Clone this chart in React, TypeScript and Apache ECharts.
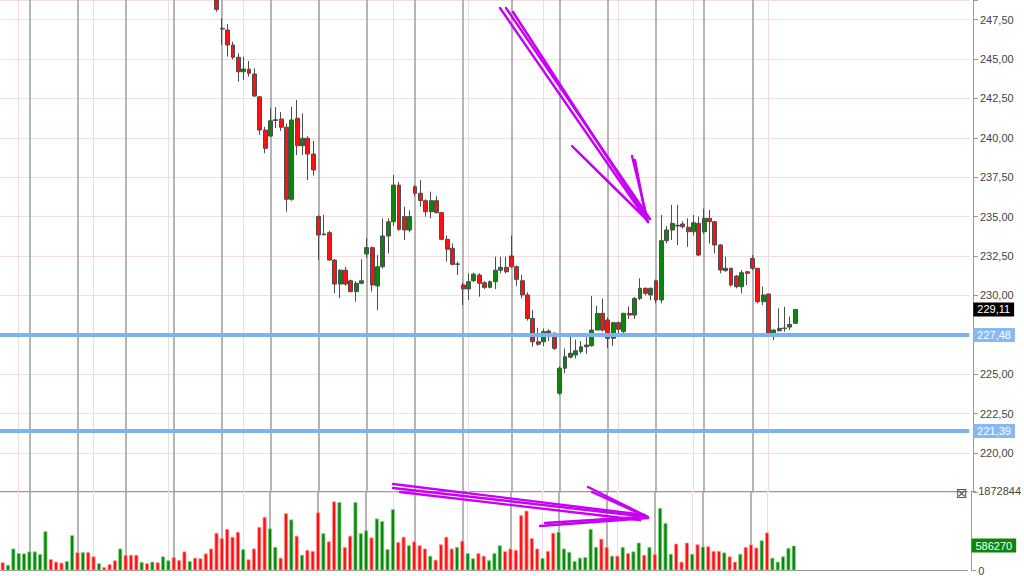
import React, { useEffect, useRef } from "react";
import * as echarts from "echarts";

// ---- data ----
const HIDDEN_BEFORE = 40; // first 40 candles lie above the visible price range
const TOTAL_SLOTS = 181; // category slots across the plot (right part empty)

// [open, close, low, high] for candles 40..148
const candles: number[][] = [
  [249.3, 248.15, 248.0, 249.6],
  [246.95, 246.9, 245.9, 247.6],
  [246.84, 245.89, 245.15, 247.22],
  [245.89, 245.11, 244.98, 246.1],
  [245.11, 244.19, 243.56, 245.36],
  [244.19, 244.36, 243.67, 245.15],
  [244.35, 244.09, 243.88, 244.87],
  [244.05, 242.65, 242.6, 244.41],
  [242.6, 240.49, 240.18, 242.65],
  [240.49, 239.33, 239.02, 240.7],
  [240.11, 241.08, 240.05, 241.89],
  [241.1, 241.15, 240.62, 241.95],
  [241.19, 240.67, 240.43, 241.64],
  [240.67, 236.1, 235.31, 240.9],
  [236.1, 241.13, 236.0, 241.97],
  [241.24, 239.5, 238.9, 242.4],
  [239.5, 239.97, 238.9, 241.55],
  [239.97, 238.97, 237.32, 240.1],
  [238.97, 237.96, 237.6, 239.8],
  [235.0, 233.83, 232.25, 235.1],
  [233.85, 233.9, 233.8, 235.1],
  [233.98, 232.24, 232.2, 234.1],
  [232.24, 230.72, 230.13, 232.3],
  [230.72, 231.6, 229.82, 231.66],
  [231.6, 230.72, 230.6, 231.8],
  [230.93, 230.24, 230.2, 231.0],
  [230.24, 230.77, 229.6, 230.9],
  [230.77, 230.93, 230.7, 232.29],
  [232.63, 233.03, 232.4, 233.62],
  [233.03, 230.66, 230.24, 233.1],
  [230.6, 231.82, 229.07, 232.56],
  [231.82, 233.77, 231.7, 234.89],
  [233.77, 234.67, 232.67, 234.89],
  [234.67, 237.0, 234.4, 237.64],
  [237.0, 234.19, 234.1, 237.2],
  [235.0, 234.15, 233.52, 235.63],
  [234.15, 235.0, 234.0, 235.4],
  [236.9, 236.48, 236.3, 237.0],
  [236.48, 236.01, 235.63, 237.32],
  [236.01, 235.31, 235.0, 236.1],
  [235.31, 236.01, 234.9, 236.58],
  [236.01, 235.25, 235.2, 236.3],
  [235.25, 233.56, 233.5, 235.3],
  [233.56, 232.93, 232.14, 233.8],
  [232.99, 231.97, 231.9, 233.3],
  [231.97, 232.0, 231.29, 232.14],
  [230.66, 230.41, 229.39, 230.8],
  [230.41, 230.87, 229.71, 231.4],
  [230.93, 231.35, 230.85, 231.45],
  [231.29, 230.77, 229.92, 231.4],
  [230.8, 230.51, 230.4, 230.9],
  [230.51, 230.87, 230.45, 230.95],
  [230.87, 231.6, 230.4, 232.45],
  [231.6, 231.78, 231.4, 232.45],
  [231.78, 231.5, 231.4, 232.45],
  [232.5, 231.82, 231.75, 233.8],
  [231.82, 231.02, 230.6, 231.9],
  [230.93, 230.03, 229.8, 231.3],
  [230.03, 228.54, 228.4, 230.2],
  [228.54, 227.06, 226.74, 229.07],
  [227.06, 226.9, 226.8, 227.95],
  [227.06, 227.7, 226.78, 227.9],
  [227.74, 227.6, 227.1, 227.85],
  [227.6, 226.64, 226.54, 227.65],
  [223.79, 225.38, 223.68, 225.5],
  [225.38, 226.11, 225.06, 226.64],
  [226.08, 226.33, 226.0, 227.6],
  [226.22, 226.49, 226.0, 227.2],
  [226.43, 226.74, 226.3, 227.1],
  [226.74, 226.85, 226.3, 227.35],
  [226.81, 227.8, 226.75, 229.96],
  [227.8, 228.86, 227.8, 229.33],
  [228.86, 227.8, 227.7, 229.8],
  [228.44, 227.28, 226.66, 228.6],
  [227.28, 228.27, 226.8, 228.3],
  [228.27, 227.85, 227.5, 228.35],
  [227.7, 228.86, 227.5, 228.9],
  [228.86, 228.75, 228.5, 229.3],
  [228.75, 229.81, 228.5, 229.9],
  [229.81, 230.45, 229.7, 231.08],
  [230.45, 230.13, 230.0, 230.5],
  [230.03, 230.45, 229.7, 230.5],
  [230.93, 229.71, 229.5, 231.0],
  [229.71, 233.47, 229.5, 235.1],
  [233.47, 234.15, 233.3, 234.4],
  [234.15, 234.57, 233.51, 235.74],
  [234.45, 234.4, 233.2, 235.74],
  [234.53, 234.36, 234.25, 234.7],
  [234.32, 234.04, 233.09, 234.89],
  [234.04, 234.61, 233.8, 235.1],
  [234.57, 232.56, 232.5, 235.0],
  [234.04, 234.89, 233.9, 235.5],
  [234.89, 234.68, 233.3, 235.42],
  [234.68, 233.2, 232.67, 234.7],
  [233.2, 231.61, 231.4, 233.25],
  [231.57, 231.72, 231.5, 232.45],
  [231.72, 230.66, 230.55, 231.75],
  [231.23, 230.55, 230.45, 231.3],
  [230.55, 231.44, 230.13, 231.61],
  [231.5, 231.4, 230.66, 231.55],
  [232.35, 231.72, 231.6, 232.56],
  [231.72, 229.6, 229.5, 231.75],
  [229.6, 230.03, 229.39, 230.55],
  [230.09, 227.55, 227.38, 230.1],
  [227.48, 227.8, 227.17, 227.85],
  [227.76, 227.91, 227.7, 229.18],
  [227.9, 227.93, 227.7, 229.28],
  [227.99, 228.16, 227.8, 228.65],
  [228.23, 229.11, 228.2, 229.11],
];

const volumes: number[] = [
  194000, 132000, 518000, 409000, 402000, 449000, 449000, 386000, 925000, 271000,
  208000, 185000, 224000, 832000, 432000, 432000, 432000, 333000, 171000, 79000,
  148000, 240000, 518000, 370000, 370000, 370000, 201000, 171000, 208000, 194000,
  333000, 240000, 317000, 247000, 449000, 224000, 301000, 287000, 402000, 518000,
  888000, 763000, 980000, 795000, 911000, 502000, 264000, 518000, 1027000, 1265000,
  994000, 555000, 301000, 1350000, 1202000, 818000, 370000, 486000, 462000, 1373000,
  879000, 687000, 1628000, 1612000, 555000, 818000, 1612000, 879000, 948000, 779000,
  1225000, 1165000, 502000, 1443000, 670000, 795000, 594000, 687000, 594000, 518000,
  347000, 254000, 617000, 795000, 518000, 555000, 703000, 409000, 287000, 409000,
  347000, 240000, 409000, 594000, 455000, 518000, 486000, 1304000, 1410000, 763000,
  518000, 294000, 462000, 888000, 911000, 518000, 439000, 224000, 301000, 317000,
  980000, 555000, 749000, 555000, 347000, 347000, 555000, 409000, 449000, 657000,
  370000, 555000, 386000, 1473000, 1119000, 393000, 634000, 208000, 657000, 393000,
  617000, 564000, 571000, 462000, 462000, 425000, 333000, 208000, 393000, 555000,
  617000, 541000, 710000, 895000, 301000, 208000, 333000, 532000, 586270,
];

// 1 = green (up) bar, 0 = red (down) bar
const volumeUp: number[] = [
  0, 1, 1, 1, 1, 1, 1, 1, 1, 0,
  0, 0, 1, 1, 0, 1, 0, 0, 1, 0,
  0, 0, 1, 0, 0, 0, 1, 0, 1, 0,
  1, 1, 0, 0, 0, 1, 0, 0, 0, 0,
  0, 0, 0, 0, 0, 1, 0, 0, 0, 0,
  1, 1, 0, 0, 1, 0, 1, 0, 0, 0,
  1, 0, 0, 1, 0, 0, 1, 1, 1, 0,
  1, 1, 1, 1, 0, 0, 1, 0, 0, 0,
  1, 0, 0, 0, 0, 1, 0, 1, 1, 0,
  0, 1, 1, 1, 0, 0, 0, 0, 0, 0,
  0, 1, 0, 0, 1, 1, 1, 1, 1, 1,
  1, 1, 0, 0, 1, 0, 1, 0, 1, 1,
  0, 1, 0, 1, 1, 1, 0, 0, 0, 1,
  0, 1, 0, 0, 0, 1, 0, 0, 1, 0,
  0, 0, 1, 0, 1, 1, 1, 1, 1,
];

const sessionLines: number[] = [5, 14, 23, 32, 41, 50, 59, 68, 77, 86, 95, 104, 113, 122, 131, 140];
const weekLines: number[] = [3, 17, 31, 45, 59, 73, 87, 101, 115, 129, 143];
const levelLines: number[] = [227.48, 221.39];
const lastPrice = 229.11;
const lastVolume = 586270;
const volumeMax = 1872844;
const priceMin = 217.5;
const priceMax = 248.744; // top edge of the visible price pane
const priceStep = 2.5;

// ---- layout ----
const PLOT_W = 969.3;
const AXIS_OFFSET = 3.7;
const FONT = "Liberation Sans, Arial, sans-serif";
const ARROW = "#c800f5";

const fmtPrice = (v: number) => v.toFixed(2).replace(".", ",");
// axis labels hidden behind the level tags in the picture
const coveredByTag = (v: number) => levelLines.some((l) => Math.abs(l - v) < 0.4);

export default function App() {
  const ref = useRef<HTMLDivElement>(null);

  useEffect(() => {
    if (!ref.current) return;
    const chart = echarts.init(ref.current, undefined, { renderer: "svg" });

    const cats = Array.from({ length: TOTAL_SLOTS }, (_, i) => String(i));
    const candleData: any[] = [
      ...Array.from({ length: HIDDEN_BEFORE }, () => ["-", "-", "-", "-"]),
      ...candles,
    ];
    const volData = volumes.map((v, i) => ({
      value: v,
      itemStyle: volumeUp[i]
        ? { color: "#0a870a", borderColor: "#86cf86", borderWidth: 0.8 }
        : { color: "#ff1010", borderColor: "#ff9a9a", borderWidth: 0.8 },
    }));

    const verticalMarks = (z: number) => ({
      silent: true,
      symbol: ["none", "none"],
      z,
      label: { show: false },
      emphasis: { disabled: true },
      data: [
        ...weekLines.map((i) => ({
          xAxis: i,
          lineStyle: { color: "#f1dade", width: 1, type: "solid" },
        })),
        ...sessionLines.map((i) => ({
          xAxis: i,
          lineStyle: { color: "#a3a3a3", width: 1.6, type: "solid" },
        })),
      ],
    });

    const tagLabel = (bg: string, fmt: (v: number) => string) => ({
      show: true,
      position: "end",
      distance: 4,
      formatter: (p: any) => fmt(p.value),
      backgroundColor: bg,
      color: "#ffffff",
      opacity: 1,
      padding: [2, 4, 1, 4],
      fontSize: 11,
      fontFamily: FONT,
    });

    const arrowLines: number[][][] = [
      // upper arrow
      [[500, 8], [648, 222]],
      [[506, 8], [650, 219]],
      [[513, 12], [646, 217]],
      [[572, 146], [646, 219]],
      [[576, 150], [643, 216]],
      [[632, 156], [648, 222]],
      [[635, 160], [646, 218]],
      // lower arrow
      [[393, 488], [648, 517]],
      [[393, 484], [645, 515]],
      [[400, 492], [640, 520]],
      [[588, 487], [648, 517]],
      [[592, 492], [645, 516]],
      [[540, 526], [648, 518]],
      [[545, 523], [640, 517]],
    ];

    chart.setOption({
      animation: false,
      backgroundColor: "#ffffff",
      grid: [
        { left: 0, top: 0, width: PLOT_W, height: 492.4 },
        { left: 0, top: 491, width: PLOT_W, height: 81 },
      ],
      xAxis: [
        { type: "category", gridIndex: 0, data: cats, boundaryGap: true, show: false },
        {
          type: "category",
          gridIndex: 1,
          data: cats,
          position: "bottom",
          axisLine: { lineStyle: { color: "#9a9a9a" } },
          axisTick: { show: false },
          axisLabel: { show: false },
          splitLine: { show: false },
        },
        {
          type: "category",
          gridIndex: 1,
          data: cats,
          position: "top",
          axisLine: { lineStyle: { color: "#9a9a9a" } },
          axisTick: { show: false },
          axisLabel: { show: false },
          splitLine: { show: false },
        },
      ],
      yAxis: [
        {
          type: "value",
          gridIndex: 0,
          position: "right",
          offset: AXIS_OFFSET,
          min: priceMin,
          max: priceMax,
          interval: priceStep,
          axisLine: { show: true, lineStyle: { color: "#9a9a9a" } },
          axisTick: { show: true, length: 5, lineStyle: { color: "#9a9a9a" } },
          axisLabel: {
            formatter: (v: number) =>
              v > priceMin + 0.01 && v < priceMax - 0.5 && !coveredByTag(v) ? fmtPrice(v) : "",
            color: "#444",
            fontSize: 11,
            fontFamily: FONT,
            margin: 7,
          },
          splitLine: { show: true, lineStyle: { color: "#f2dde1", width: 1 } },
        },
        {
          type: "value",
          gridIndex: 1,
          position: "right",
          offset: AXIS_OFFSET,
          min: 0,
          max: volumeMax,
          interval: volumeMax,
          axisLine: { show: true, lineStyle: { color: "#9a9a9a" } },
          axisTick: { show: true, length: 5, lineStyle: { color: "#9a9a9a" } },
          axisLabel: {
            formatter: (v: number) => String(Math.round(v)),
            color: "#444",
            fontSize: 11,
            fontFamily: FONT,
            margin: 7,
          },
          splitLine: { show: false },
        },
      ],
      series: [
        {
          name: "grid-lines-price",
          type: "line",
          xAxisIndex: 0,
          yAxisIndex: 0,
          data: [],
          silent: true,
          markLine: verticalMarks(1),
        },
        {
          name: "price",
          type: "candlestick",
          xAxisIndex: 0,
          yAxisIndex: 0,
          data: candleData,
          barWidth: 4.4,
          clip: true,
          itemStyle: {
            color: "#0a870a",
            color0: "#ff1010",
            borderColor: "#4d4d4d",
            borderColor0: "#4d4d4d",
            borderWidth: 1,
          },
          markLine: {
            silent: true,
            symbol: ["none", "none"],
            z: 6,
            emphasis: { disabled: true },
            data: [
              ...levelLines.map((v) => ({
                yAxis: v,
                lineStyle: { color: "#7db2ef", width: 4, type: "solid" },
                label: tagLabel("#86b9f2", fmtPrice),
              })),
              {
                yAxis: lastPrice,
                lineStyle: { color: "rgba(0,0,0,0)", width: 1, type: "solid" },
                label: tagLabel("#000000", fmtPrice),
              },
            ],
          },
        },
        {
          name: "grid-lines-volume",
          type: "line",
          xAxisIndex: 1,
          yAxisIndex: 1,
          data: [],
          silent: true,
          markLine: verticalMarks(1),
        },
        {
          name: "volume",
          type: "bar",
          xAxisIndex: 1,
          yAxisIndex: 1,
          data: volData,
          barWidth: 4,
          silent: true,
          markLine: {
            silent: true,
            symbol: ["none", "none"],
            z: 6,
            data: [
              {
                yAxis: lastVolume,
                lineStyle: { color: "rgba(0,0,0,0)", width: 1, type: "solid" },
                label: tagLabel("#0a870a", (v) => String(Math.round(v))),
              },
            ],
          },
        },
      ],
      graphic: [
        {
          type: "text",
          x: 956,
          y: 486,
          z: 10,
          style: { text: "⊠", fontSize: 14, fill: "#555", fontFamily: "DejaVu Sans" },
        },
        ...arrowLines.map((pts) => ({
          type: "polyline",
          z: 20,
          silent: true,
          shape: { points: pts },
          style: { stroke: ARROW, lineWidth: 2.4, fill: null, lineCap: "round" },
        })),
      ],
    });

    return () => chart.dispose();
  }, []);

  return (
    <div
      ref={ref}
      style={{ position: "fixed", left: 0, top: 0, width: 1024, height: 576, background: "#fff" }}
    />
  );
}
